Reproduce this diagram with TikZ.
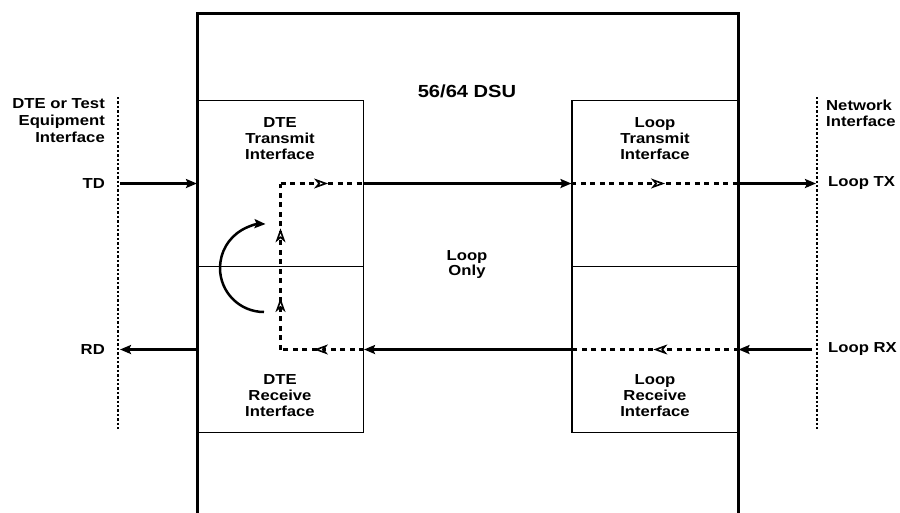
\documentclass[tikz,border=0pt]{standalone}
\usepackage{fontspec}
\setmainfont[FakeStretch=1.15]{Liberation Sans}
\usetikzlibrary{arrows.meta,positioning,decorations.markings}

\begin{document}
\begin{tikzpicture}[x=1pt, y=-1pt,
  ifbox/.style = {draw, line width=1.1pt, minimum width=166pt, minimum height=166pt, inner sep=0pt},
  lbl/.style = {font=\fontsize{14.5}{16}\selectfont\bfseries, align=center, inner sep=0pt},
  sig/.style = {line width=2.5pt, -{Stealth[length=11pt, width=9pt, inset=2pt]}},
  loopline/.style = {line width=2.8pt, dash pattern=on 5pt off 4.5pt},
  mid/.style = {postaction={decorate, decoration={markings, mark=at position #1 with {\arrow[line width=1.6pt, solid]{Stealth[open, fill=white, length=14pt, width=10pt, inset=4pt]}}}}},
  bound/.style = {line width=2.4pt, dotted}]
\useasboundingbox (0,0) rectangle (900,512);

% the unit and its interfaces
\node[draw, line width=3pt, minimum width=541pt, minimum height=530pt, anchor=north, inner sep=0pt] (dsu) at (467.5,12) {};
\node[ifbox] (dtetx) at (280.5,183.5) {};
\node[ifbox] (dterx) at (280.5,349.5) {};
\node[ifbox] (looptx) at (655,183.5) {};
\node[ifbox] (looprx) at (655,349.5) {};

\node[lbl, font=\fontsize{17.5}{20}\selectfont\bfseries] (dsulbl) at (467,91) {56/64 DSU};
\node[lbl] (dtetxlbl) at (280,139) {DTE\\Transmit\\Interface};
\node[lbl] (looptxlbl) at (655,139) {Loop\\Transmit\\Interface};
\node[lbl] (dterxlbl) at (280,396) {DTE\\Receive\\Interface};
\node[lbl] (looprxlbl) at (655,396) {Loop\\Receive\\Interface};
\node[lbl, font=\fontsize{14.5}{15}\selectfont\bfseries] (looponly) at (467,265) {Loop\\Only};

% outside labels
\node[lbl, align=right, anchor=east, font=\fontsize{14.5}{17}\selectfont\bfseries] (dteif) at (105,121) {DTE or Test\\Equipment\\Interface};
\node[lbl, align=left, anchor=west] (netif) at (826,113) {Network\\Interface};
\node[lbl, anchor=east] (td) at (105,183.5) {TD};
\node[lbl, anchor=east] (rd) at (105,349.5) {RD};
\node[lbl, anchor=west] (looptxt) at (828,183.5) {Loop TX};
\node[lbl, anchor=west] (looprxt) at (828,349.5) {Loop RX};

% interface boundaries
\coordinate (ltop) at (118,97);
\coordinate (lbot) at (118,430);
\coordinate (rtop) at (817,97);
\coordinate (rbot) at (817,430);
\draw[bound] (ltop) -- (lbot);
\draw[bound] (rtop) -- (rbot);

% data paths
\coordinate (tdin) at (120,183.5);
\coordinate (rdout) at (120,349.5);
\coordinate (txout) at (816,183.5);
\coordinate (rxin) at (812,349.5);
\draw[sig] (tdin) -- (dtetx.west);
\draw[sig] (dterx.west) -- (rdout);
\draw[sig] (dtetx.east) -- (looptx.west);
\draw[sig] (looprx.west) -- (dterx.east);
\draw[sig] (looptx.east) -- (txout);
\draw[sig] (rxin) -- (looprx.east);

% loopback
\draw[loopline, mid=0.57] (dtetx.center) -- (dtetx.east);
\draw[loopline, mid=0.31, mid=0.73] (dterx.center) -- (dtetx.center);
\draw[loopline, mid=0.6] (dterx.east) -- (dterx.center);
\draw[loopline, mid=0.56] (looptx.west) -- (looptx.east);
\draw[loopline, mid=0.51] (looprx.east) -- (looprx.west);

\coordinate (turn) at (264,268);
\draw[sig] ([shift={(90:44)}]turn) arc[start angle=90, end angle=272, radius=44];
\end{tikzpicture}
\end{document}
